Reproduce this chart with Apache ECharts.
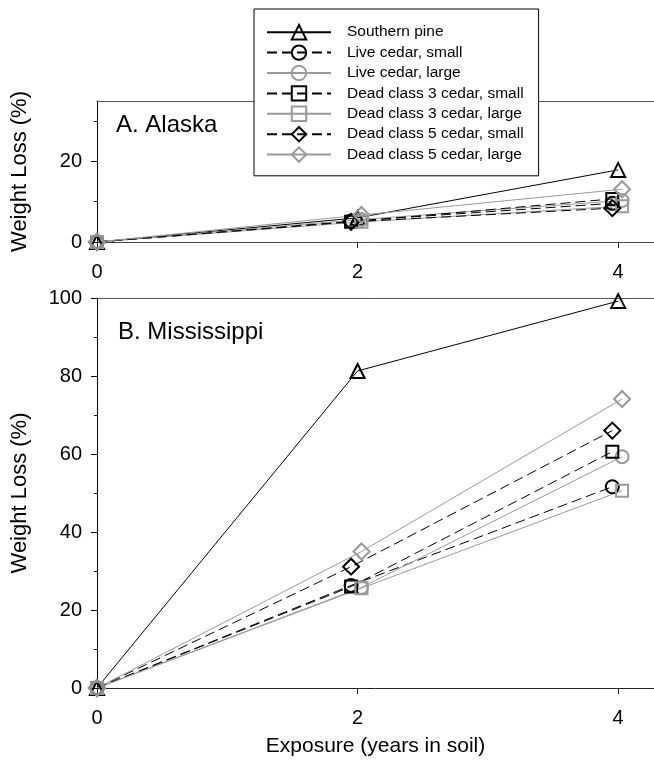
<!DOCTYPE html>
<html>
<head>
<meta charset="utf-8">
<script src="https://cdn.jsdelivr.net/npm/echarts@6/dist/echarts.min.js"></script>
<style>
  html, body { margin: 0; padding: 0; background: #fff; }
  #chart { width: 654px; height: 769px; }
</style>
</head>
<body>
<div id="chart"></div>
<script>
// exposure (years) and per-series x positions (markers are slightly jittered)
const years = [0, 2, 4];
const smallX = [0, 1.95, 3.955];
const largeX = [0, 2.03, 4.03];

const seriesNames = [
  'Southern pine',
  'Live cedar, small',
  'Live cedar, large',
  'Dead class 3 cedar, small',
  'Dead class 3 cedar, large',
  'Dead class 5 cedar, small',
  'Dead class 5 cedar, large'
];

// A. Alaska, weight loss (%)
const akPine = [0, 6.0, 17.9];
const akLiveSmall = [0, 5.2, 9.6];
const akLiveLarge = [0, 5.6, 10.3];
const akDead3Small = [0, 5.0, 10.7];
const akDead3Large = [0, 5.0, 8.9];
const akDead5Small = [0, 5.0, 8.4];
const akDead5Large = [0, 6.7, 13.1];

// B. Mississippi, weight loss (%)
const msPine = [0, 81.3, 99.2];
const msLiveSmall = [0, 26.3, 51.6];
const msLiveLarge = [0, 25.8, 59.3];
const msDead3Small = [0, 26.0, 60.6];
const msDead3Large = [0, 25.6, 50.6];
const msDead5Small = [0, 31.1, 66.0];
const msDead5Large = [0, 35.0, 74.1];

const xTicks = [0, 2, 4];
const akYTicks = [0, 20];
const akYMinor = [10, 30];

const FONT = 'Liberation Sans, Arial, Helvetica, sans-serif';
const GRAY = '#999999';

const styles = [
  { symbol: 'triangle', size: 14, color: '#000', dash: 'solid', xs: years },
  { symbol: 'circle', size: 13, color: '#000', dash: [10, 5], xs: smallX },
  { symbol: 'circle', size: 13, color: GRAY, dash: 'solid', xs: largeX },
  { symbol: 'rect', size: 12, color: '#000', dash: [10, 5], xs: smallX },
  { symbol: 'rect', size: 12, color: GRAY, dash: 'solid', xs: largeX },
  { symbol: 'diamond', size: 16, color: '#000', dash: [10, 5], xs: smallX },
  { symbol: 'diamond', size: 16, color: GRAY, dash: 'solid', xs: largeX }
];

const akData = [akPine, akLiveSmall, akLiveLarge, akDead3Small, akDead3Large, akDead5Small, akDead5Large];
const msData = [msPine, msLiveSmall, msLiveLarge, msDead3Small, msDead3Large, msDead5Small, msDead5Large];

function buildSeries(values, axisIndex) {
  return values.map((ys, i) => {
    const s = styles[i];
    return {
      name: seriesNames[i],
      type: 'line',
      xAxisIndex: axisIndex,
      yAxisIndex: axisIndex,
      data: ys.map((y, k) => [s.xs[k], y]),
      symbol: s.symbol,
      symbolSize: s.size,
      showAllSymbol: true,
      lineStyle: { color: s.color, width: 1, type: s.dash },
      itemStyle: { color: 'rgba(0,0,0,0)', borderColor: s.color, borderWidth: 2 },
      emphasis: { disabled: true }
    };
  });
}

const chart = echarts.init(document.getElementById('chart'), null, { renderer: 'canvas' });

const xAxisBase = {
  type: 'value',
  min: 0,
  max: 4.275,
  splitLine: { show: false },
  axisLine: { onZero: false, lineStyle: { color: '#444', width: 1 } },
  axisTick: { show: true, length: 6, customValues: xTicks, lineStyle: { color: '#222' } },
  axisLabel: { customValues: xTicks, margin: 20, fontSize: 20, color: '#000', fontFamily: FONT }
};

const frameTop = {
  type: 'value', position: 'top', min: 0, max: 4.275,
  axisLine: { show: true, onZero: false, lineStyle: { color: '#555', width: 1 } },
  axisTick: { show: false }, axisLabel: { show: false }, splitLine: { show: false }
};

const option = {
  animation: false,
  backgroundColor: '#fff',
  textStyle: { fontFamily: FONT },
  title: [
    { text: 'A. Alaska', left: 111, top: 108, textStyle: { fontSize: 24, fontWeight: 'normal', color: '#000', fontFamily: FONT } },
    { text: 'B. Mississippi', left: 113, top: 315, textStyle: { fontSize: 24, fontWeight: 'normal', color: '#000', fontFamily: FONT } }
  ],
  legend: {
    data: seriesNames,
    orient: 'vertical',
    left: 254,
    top: 9,
    padding: [15, 15, 13, 12],
    backgroundColor: '#fff',
    borderColor: '#000',
    borderWidth: 1,
    borderRadius: 0,
    itemWidth: 64,
    itemHeight: 18,
    itemGap: 4,
    selectedMode: false,
    textStyle: { fontSize: 15.5, color: '#000', fontFamily: FONT, lineHeight: 16, padding: [0, 0, 0, 11] }
  },
  grid: [
    { left: 97, top: 101, width: 557, height: 141 },
    { left: 97, top: 298, width: 557, height: 390 }
  ],
  xAxis: [
    Object.assign({}, xAxisBase, { gridIndex: 0 }),
    Object.assign({}, xAxisBase, {
      gridIndex: 1,
      axisLine: { onZero: false, lineStyle: { color: '#222', width: 1 } },
      name: 'Exposure (years in soil)',
      nameLocation: 'middle',
      nameGap: 48,
      nameTextStyle: { fontSize: 21, color: '#000', fontFamily: FONT }
    }),
    Object.assign({}, frameTop, { gridIndex: 0 }),
    Object.assign({}, frameTop, { gridIndex: 1 })
  ],
  yAxis: [
    {
      type: 'value', gridIndex: 0, min: 0, max: 35,
      splitLine: { show: false },
      axisLine: { show: true, onZero: false, lineStyle: { color: '#000', width: 1 } },
      axisTick: { show: true, length: 6, customValues: akYTicks, lineStyle: { color: '#000' } },
      axisLabel: { customValues: akYTicks, margin: 15, fontSize: 20, color: '#000', fontFamily: FONT },
      name: 'Weight Loss (%)',
      nameLocation: 'middle',
      nameGap: 66,
      nameTextStyle: { fontSize: 22, color: '#000', fontFamily: FONT }
    },
    {
      type: 'value', gridIndex: 1, min: 0, max: 100, interval: 20,
      splitLine: { show: false },
      axisLine: { show: true, onZero: false, lineStyle: { color: '#000', width: 1 } },
      axisTick: { show: true, length: 6, lineStyle: { color: '#000' } },
      minorTick: { show: true, splitNumber: 2, length: 3, lineStyle: { color: '#000' } },
      axisLabel: { margin: 15, fontSize: 20, color: '#000', fontFamily: FONT },
      name: 'Weight Loss (%)',
      nameLocation: 'middle',
      nameGap: 66,
      nameTextStyle: { fontSize: 22, color: '#000', fontFamily: FONT }
    },
    {
      // minor ticks for the Alaska panel
      type: 'value', gridIndex: 0, min: 0, max: 35, position: 'left',
      splitLine: { show: false },
      axisLine: { show: false, onZero: false },
      axisTick: { show: true, length: 3, customValues: akYMinor, lineStyle: { color: '#000' } },
      axisLabel: { show: false }
    }
  ],
  series: buildSeries(akData, 0).concat(buildSeries(msData, 1))
};

chart.setOption(option);
</script>
</body>
</html>
